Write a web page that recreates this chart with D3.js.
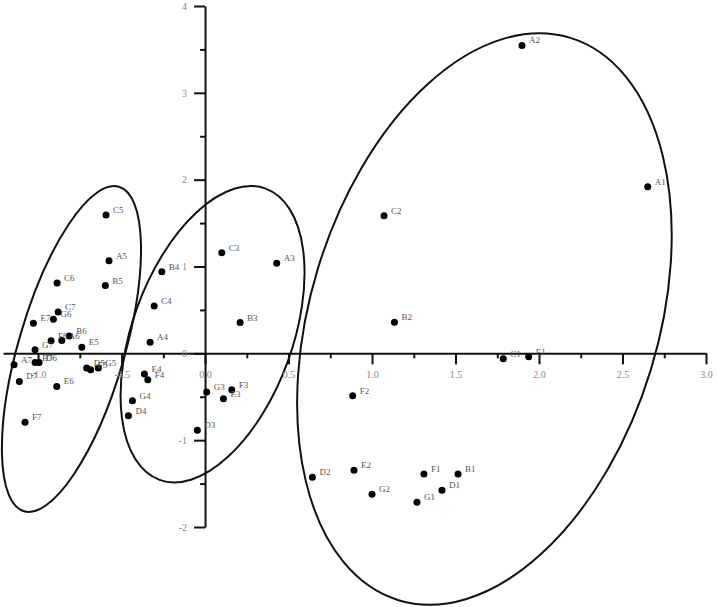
<!DOCTYPE html>
<html>
<head>
<meta charset="utf-8">
<script src="https://cdn.jsdelivr.net/npm/d3@7"></script>
<style>
  body { margin: 0; background: #fff; }
  text { font-family: "Liberation Serif", "DejaVu Serif", serif; }
</style>
</head>
<body>
<svg id="chart" width="718" height="607"></svg>
<script>
// sample names and their scores on the two axes
var names = ["A1","B1","C1","D1","E1","F1","G1",
             "A2","B2","C2","D2","E2","F2","G2",
             "A3","B3","C3","D3","E3","F3","G3",
             "A4","B4","C4","D4","E4","F4","G4",
             "A5","B5","C5","D5","E5","F5","G5",
             "A6","B6","C6","D6","E6","F6","G6",
             "A7","B7","C7","D7","E7","F7","G7"];
var pc1 = [2.651, 1.515, 1.786, 1.419, 1.938, 1.311, 1.269,
           1.898, 1.134, 1.072, 0.643, 0.892, 0.884, 1.000,
           0.429, 0.210, 0.100, -0.046, 0.110, 0.160, 0.010,
           -0.329, -0.259, -0.305, -0.459, -0.363, -0.343, -0.435,
           -0.575, -0.597, -0.593, -0.709, -0.738, -0.685, -0.639,
           -0.858, -0.814, -0.886, -0.994, -0.888, -0.922, -0.908,
           -1.144, -1.018, -0.880, -1.112, -1.028, -1.078, -1.018];
var pc2 = [1.917, -1.389, -0.063, -1.577, -0.040, -1.389, -1.715,
           3.546, 0.358, 1.584, -1.427, -1.347, -0.489, -1.623,
           1.037, 0.354, 1.159, -0.887, -0.523, -0.420, -0.446,
           0.129, 0.940, 0.546, -0.718, -0.239, -0.305, -0.546,
           1.067, 0.780, 1.592, -0.170, 0.071, -0.190, -0.170,
           0.147, 0.201, 0.810, -0.106, -0.381, 0.144, 0.393,
           -0.132, -0.106, 0.477, -0.324, 0.347, -0.795, 0.040];

var xMajor = [-1.0, -0.5, 0.0, 0.5, 1.0, 1.5, 2.0, 2.5, 3.0];
var xMinor = [-0.75, -0.25, 0.25, 0.75, 1.25, 1.75, 2.25, 2.75];
var yMajor = [-2, -1, 0, 1, 2, 3, 4];
var yMinor = [-1.5, -0.5, 0.5, 1.5, 2.5, 3.5];

var svg = d3.select("#chart");

var x = d3.scaleLinear().domain([-1.21, 3.0]).range([3, 706]);
var y = d3.scaleLinear().domain([-2, 4]).range([527, 6]);

// group outlines
var groups = [
  { cx: -0.80, cy: 0.05, rx: 53, ry: 169, rot: 16.3 },
  { cx: 0.045, cy: 0.22, rx: 80, ry: 155, rot: 20 },
  { cx: 1.673, cy: 0.395, rx: 174, ry: 294, rot: 17 }
];
svg.append("g").selectAll("ellipse")
  .data(groups)
  .enter()
  .append("ellipse")
  .attr("transform", function(d) { return "translate(" + x(d.cx) + "," + y(d.cy) + ") rotate(" + d.rot + ")"; })
  .attr("rx", function(d) { return d.rx; })
  .attr("ry", function(d) { return d.ry; })
  .attr("fill", "none")
  .attr("stroke", "#111")
  .attr("stroke-width", 2);

// x axis through y = 0
var gx = svg.append("g").attr("transform", "translate(0," + y(0) + ")");
gx.call(d3.axisBottom(x).tickValues(xMajor).tickSize(11).tickSizeOuter(0).tickPadding(7)
  .tickFormat(function(d) { return d3.format(".1f")(d).replace("\u2212", "-"); }));
gx.append("g").call(d3.axisBottom(x).tickValues(xMinor).tickSize(5).tickSizeOuter(0).tickFormat(""))
  .select(".domain").remove();

// y axis through x = 0
var gy = svg.append("g").attr("transform", "translate(" + x(0) + ",0)");
gy.call(d3.axisLeft(y).tickValues(yMajor).tickSize(11).tickSizeOuter(0).tickPadding(7)
  .tickFormat(function(d) { return String(d); }));
gy.append("g").call(d3.axisLeft(y).tickValues(yMinor).tickSize(5).tickSizeOuter(0).tickFormat(""))
  .select(".domain").remove();

svg.selectAll(".domain").attr("stroke", "#111").attr("stroke-width", 2);
svg.selectAll(".tick line").attr("stroke", "#111").attr("stroke-width", 2);
svg.selectAll(".tick text").attr("fill", "#888").style("font-size", "10px")
  .style("font-family", "'Liberation Serif', serif");

// points
var pts = names.map(function(n, i) { return { name: n, x: pc1[i], y: pc2[i] }; });

svg.append("g").selectAll("circle")
  .data(pts)
  .enter()
  .append("circle")
  .attr("cx", function(d) { return x(d.x); })
  .attr("cy", function(d) { return y(d.y); })
  .attr("r", 3.5)
  .attr("fill", "#000");

svg.append("g").selectAll("text")
  .data(pts)
  .enter()
  .append("text")
  .attr("x", function(d) { return x(d.x) + 7; })
  .attr("y", function(d) { return y(d.y) - 2; })
  .attr("fill", "#555")
  .style("font-size", "9px")
  .text(function(d) { return d.name; });
</script>
</body>
</html>
